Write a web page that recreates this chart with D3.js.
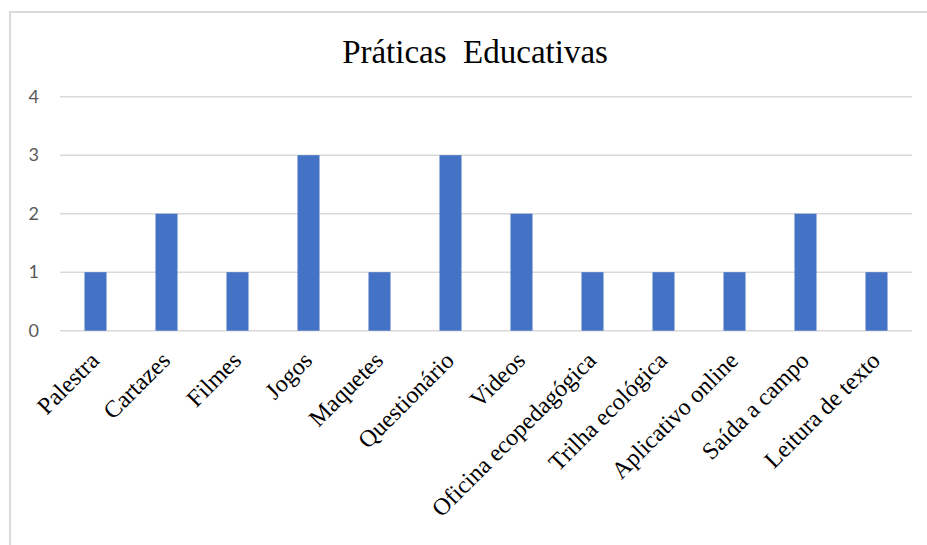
<!DOCTYPE html>
<html><head><meta charset="utf-8">
<script src="https://cdn.jsdelivr.net/npm/d3@7"></script>
<style>html,body{margin:0;padding:0;background:#fff;}svg{display:block;}</style>
</head><body>
<script>
const categories = ["Palestra","Cartazes","Filmes","Jogos","Maquetes","Questionário","Videos","Oficina ecopedagógica","Trilha ecológica","Aplicativo online","Saída a campo","Leitura de texto"];
const values = [1,2,1,3,1,3,2,1,1,1,2,1];
const yTicks = [0,1,2,3,4];
const title = "Práticas  Educativas";

const W = 927, H = 545;
const svg = d3.select("body").append("svg").attr("width", W).attr("height", H);

// chart border
svg.append("rect").attr("x", 10).attr("y", 12).attr("width", 930).attr("height", 560)
  .attr("fill", "none").attr("stroke", "#d9d9d9").attr("stroke-width", 2);

const x = d3.scaleBand().domain(categories).range([60, 912]).paddingInner(0.69).paddingOuter(0.345);
const y = d3.scaleLinear().domain([0, 4]).range([330.7, 96.7]);

// gridlines
svg.append("g").selectAll("line").data(yTicks).join("line")
  .attr("x1", 60).attr("x2", 912)
  .attr("y1", d => y(d)).attr("y2", d => y(d))
  .attr("stroke", "#d9d9d9").attr("stroke-width", 1.5);

// y axis labels
const yAxis = d3.axisLeft(y).tickValues(yTicks).tickSize(0).tickPadding(0).tickFormat(d3.format("d"));
const gy = svg.append("g").attr("transform", "translate(39,0)").call(yAxis);
gy.select(".domain").remove();
gy.selectAll("text").attr("font-family", "Lato, 'Open Sans', sans-serif").attr("font-size", 18).attr("fill", "#595959");

// bars
svg.append("g").selectAll("rect").data(categories).join("rect")
  .attr("x", d => x(d)).attr("width", x.bandwidth())
  .attr("y", (d, i) => y(values[i])).attr("height", (d, i) => y(0) - y(values[i]))
  .attr("fill", "#4472C4");

// x axis labels
const xAxis = d3.axisBottom(x).tickSize(0).tickPadding(0);
const gx = svg.append("g").attr("transform", "translate(0,331)").call(xAxis);
gx.select(".domain").remove();
gx.selectAll("text")
  .attr("font-family", "'Liberation Serif', 'Times New Roman', serif")
  .attr("font-size", 24).attr("fill", "#000")
  .attr("text-anchor", "end").attr("dy", 0)
  .attr("transform", "translate(5,31) rotate(-45)");

// title
svg.append("text").attr("x", 475).attr("y", 63).attr("text-anchor", "middle")
  .attr("font-family", "'Liberation Serif', 'Times New Roman', serif")
  .attr("font-size", 33).attr("fill", "#000").style("white-space", "pre")
  .text(title);
</script>
</body></html>
